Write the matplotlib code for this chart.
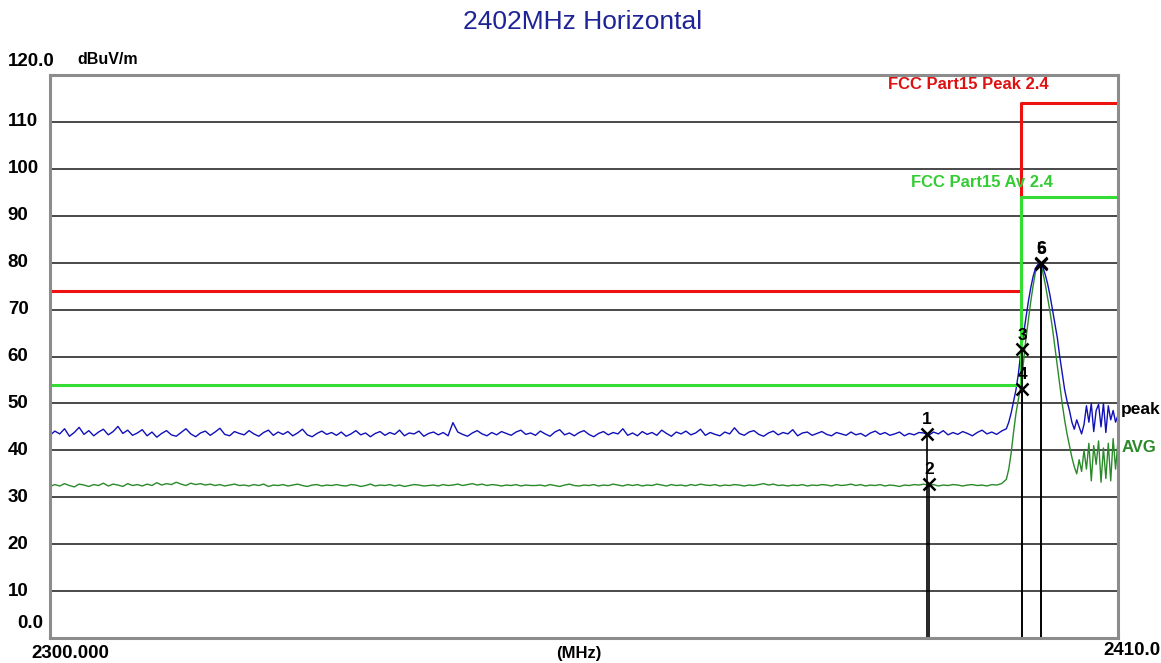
import numpy as np
import matplotlib
matplotlib.use("Agg")
import matplotlib.pyplot as plt

# ---- data ----
title = "2402MHz Horizontal"
y_ticks = [10, 20, 30, 40, 50, 60, 70, 80, 90, 100, 110]

# flat part of the sweep, 2300 .. 2398 MHz in 0.5 MHz steps
peak_flat = [
    43.2, 44.1, 43.5, 44.6, 43.0, 43.8, 44.9, 43.4, 44.2, 43.1, 43.9, 44.5, 43.3, 44.0, 45.1, 43.6, 44.3, 43.2, 43.7, 44.4,
    43.1, 43.9, 42.8, 43.6, 44.2, 43.3, 43.0, 43.8, 44.6, 43.5, 42.9, 43.7, 44.1, 43.2, 43.9, 44.7, 43.4, 43.1, 44.0, 43.6,
    43.3, 44.2, 43.5, 43.0, 43.8, 44.3, 43.2, 43.9, 43.4, 44.0, 43.1, 43.7, 44.5, 43.3, 42.9, 43.6, 44.1, 43.4, 43.8, 43.2,
    43.9, 43.0, 43.5, 44.2, 43.3, 43.7, 42.9, 43.6, 44.0, 43.2, 43.8, 43.4, 44.3, 43.1, 43.7, 43.5, 44.1, 43.0, 43.6, 43.9,
    43.3, 43.8, 43.1, 45.9, 43.9, 43.4, 43.0, 43.7, 44.2, 43.5, 43.1, 43.8, 43.3, 44.0, 43.6, 43.2, 43.9, 44.3, 43.4, 43.7,
    43.2, 44.1, 43.5, 43.0, 43.9, 44.4, 43.3, 43.7, 43.1, 43.8, 44.2, 43.4, 42.9, 43.6, 44.0, 43.3, 43.8, 43.5, 44.6, 43.2,
    43.7, 43.1, 44.0, 43.4, 43.8, 43.2, 44.3, 43.6, 43.0, 43.9, 43.5, 44.1, 43.3, 43.7, 44.5, 43.2, 43.8, 43.4, 43.1, 43.9,
    43.5, 44.8, 43.6, 43.2, 43.9, 44.2, 43.4, 43.0, 43.7, 44.1, 43.3, 43.8, 43.5, 44.4, 43.1, 43.7, 43.9, 43.2, 43.6, 44.0,
    43.4, 43.1, 43.8, 43.5, 43.2, 43.9, 43.3, 43.6, 43.0, 43.7, 44.1, 43.4, 43.8, 43.2, 43.5, 43.9, 43.1, 43.6, 43.3, 43.8,
    43.7, 43.2, 43.9, 43.5, 44.2, 43.3, 43.8, 43.4, 44.0, 43.6, 43.1, 43.8, 44.3, 43.5, 43.9, 43.4, 44.1,
]
avg_flat = [
    32.3, 32.7, 32.4, 32.9, 32.5, 32.2, 32.8, 32.6, 32.3, 32.7, 32.5, 33.0, 32.4, 32.8, 32.6, 32.3, 32.9, 32.5, 32.7, 32.4,
    32.8, 32.5, 33.1, 32.6, 32.9, 32.7, 33.2, 32.8, 32.5, 33.0, 32.7, 32.9, 32.6, 32.8, 32.5, 32.7, 32.4, 32.6, 32.8, 32.5,
    32.6, 32.4, 32.7, 32.5, 32.8, 32.3, 32.6, 32.5, 32.7, 32.4, 32.6, 32.8, 32.5, 32.3, 32.6, 32.7, 32.4, 32.6, 32.5, 32.7,
    32.5, 32.4, 32.7, 32.6, 32.3, 32.5, 32.8, 32.4, 32.6, 32.5, 32.7, 32.4, 32.6, 32.3, 32.5, 32.7, 32.6, 32.4, 32.5, 32.6,
    32.4, 32.7, 32.5, 32.6, 32.8, 32.5, 32.7, 32.9, 32.6, 32.8, 32.5, 32.7, 32.6, 32.4, 32.6, 32.5, 32.7, 32.4, 32.6, 32.5,
    32.5, 32.6, 32.4, 32.7, 32.5, 32.3, 32.6, 32.8, 32.5, 32.4, 32.6, 32.5, 32.7, 32.4, 32.6, 32.5, 32.8, 32.6, 32.4, 32.7,
    32.5, 32.7, 32.4, 32.6, 32.5, 32.8, 32.6, 32.4, 32.7, 32.5, 32.6, 32.4, 32.7, 32.5, 32.8, 32.6, 32.5, 32.7, 32.4, 32.6,
    32.5, 32.7, 32.6, 32.4, 32.6, 32.5, 32.7, 32.9, 32.6, 32.8, 32.5, 32.6, 32.4, 32.6, 32.5, 32.7, 32.4, 32.6, 32.5, 32.7,
    32.6, 32.4, 32.7, 32.5, 32.6, 32.8, 32.5, 32.7, 32.4, 32.6, 32.5, 32.7, 32.4, 32.6, 32.5, 32.3, 32.6, 32.5, 32.7, 32.6,
    32.8, 32.5, 32.7, 32.4, 32.6, 32.5, 32.7, 32.6, 32.4, 32.6, 32.7, 32.5, 32.6, 32.4, 32.7, 32.6, 32.9,
]

# emission part, 2398.5 .. 2410 MHz in 0.25 MHz steps
peak_emis = [
    44.6, 46.0, 48.0, 50.5, 53.0, 56.5,
    61.0, 64.5, 68.0, 71.5, 74.5, 77.0, 78.8, 79.6,
    79.8, 79.0, 77.5, 75.5, 73.0, 70.0, 67.0, 64.0,
    60.0, 56.5, 53.0, 50.5, 48.5, 46.0, 44.5, 46.5,
    45.0, 43.5, 45.5, 49.5, 46.0, 50.0, 44.0, 48.5,
    49.8, 45.0, 50.0, 43.8, 49.5, 46.5, 48.5, 46.0, 47.5,
]
avg_emis = [
    33.8, 36.0, 39.5, 44.0, 48.0, 51.0,
    54.0, 58.5, 63.5, 67.5, 71.5, 75.0, 78.0, 79.5,
    79.9, 78.0, 75.5, 72.5, 69.5, 66.0, 62.0, 58.0,
    54.0, 50.0, 46.5, 43.5, 41.0, 38.5, 36.5, 35.0,
    38.0, 35.5, 40.0, 36.0, 41.5, 33.5, 41.0, 37.0,
    42.0, 33.2, 40.5, 34.0, 41.5, 33.5, 42.5, 36.0, 42.0,
]

# limit lines (step at the band edge)
limit_freq = [2300.0, 2400.0, 2410.0]
limit_peak = [74.0, 114.0, 114.0]
limit_avg = [54.0, 94.0, 94.0]

# markers
marker_freq = [2390.3, 2390.55, 2400.15, 2400.15, 2402.05, 2402.05]
marker_level = [43.4, 32.8, 61.5, 53.0, 79.8, 79.9]
marker_names = ["1", "2", "3", "4", "5", "6"]

freq = np.concatenate([np.arange(2300.0, 2398.01, 0.5),
                       np.arange(2398.5, 2410.01, 0.25)])
peak = np.array(peak_flat + peak_emis)
avg = np.array(avg_flat + avg_emis)

# ---- drawing ----
plt.rcParams["font.family"] = ["Liberation Sans", "DejaVu Sans"]
fig = plt.figure(figsize=(11.61, 6.63), dpi=100)
ax = fig.add_axes([50 / 1161, 1 - 638 / 663, 1068 / 1161, 563 / 663])
ax.set_xlim(2300, 2410)
ax.set_ylim(0, 120)

for v in y_ticks:
    ax.axhline(v, color="#3a3a3a", lw=1.3, zorder=1)

ax.plot(freq, avg, color="#2a8a2a", lw=1.0, zorder=3)
ax.plot(freq, peak, color="#1010b8", lw=1.0, zorder=3)

ax.step(limit_freq, limit_peak, where="post", color="#ee1111", lw=2.2, zorder=4)
ax.step(limit_freq, limit_avg, where="post", color="#33dd33", lw=2.2, zorder=5)

for f, lv, name in zip(marker_freq, marker_level, marker_names):
    ax.plot([f, f], [0, lv], color="black", lw=1.2, zorder=6)
    ax.plot(f, lv, marker="x", color="black", ms=9, mew=1.8, zorder=7)
    ax.annotate(name, (f, lv), xytext=(0, 5), textcoords="offset points",
                ha="center", va="bottom", fontsize=12.5, fontweight="bold", zorder=7)

ax.text(2386.3, 117.1, "FCC Part15 Peak 2.4", color="#dd1111", fontsize=12,
        fontweight="bold", va="baseline", ha="left", zorder=8)
ax.text(2388.7, 96.2, "FCC Part15 Av 2.4", color="#33cc33", fontsize=12,
        fontweight="bold", va="baseline", ha="left", zorder=8)

ax.text(1.003, 48.6, "peak", transform=ax.get_yaxis_transform(), fontsize=12.5,
        fontweight="bold", va="center", ha="left", clip_on=False)
ax.text(1.003, 40.7, "AVG", transform=ax.get_yaxis_transform(), fontsize=12,
        color="#2a8a2a", fontweight="bold", va="center", ha="left", clip_on=False)

# axis labels as text, like the analyser screen
ytr = ax.get_yaxis_transform()
for v in y_ticks:
    ax.text(-0.0395, v, str(v), transform=ytr, fontsize=13.5, fontweight="bold",
            va="center", ha="left", clip_on=False)
ax.text(-0.0395, 122.8, "120.0", transform=ytr, fontsize=13.5, fontweight="bold",
        va="center", ha="left", clip_on=False)
ax.text(-0.031, 3.0, "0.0", transform=ytr, fontsize=13.5, fontweight="bold",
        va="center", ha="left", clip_on=False)
ax.text(0.026, 123.2, "dBuV/m", transform=ytr, fontsize=11.5, fontweight="bold",
        va="center", ha="left", clip_on=False)

ax.text(0.0187, -0.028, "2300.000", transform=ax.transAxes, fontsize=13.5,
        fontweight="bold", va="center", ha="center")
ax.text(0.495, -0.028, "(MHz)", transform=ax.transAxes, fontsize=12,
        fontweight="bold", va="center", ha="center")
ax.text(1.013, -0.023, "2410.0", transform=ax.transAxes, fontsize=13.5,
        fontweight="bold", va="center", ha="center")

fig.text(583 / 1161, 1 - 22 / 663, title, color="#1e2496", fontsize=19,
         ha="center", va="center")

ax.set_xticks([])
ax.set_yticks([])
for s in ax.spines.values():
    s.set_color("#8c8c8c")
    s.set_linewidth(2.2)
    s.set_zorder(10)

fig.savefig("out.png", dpi=100)
